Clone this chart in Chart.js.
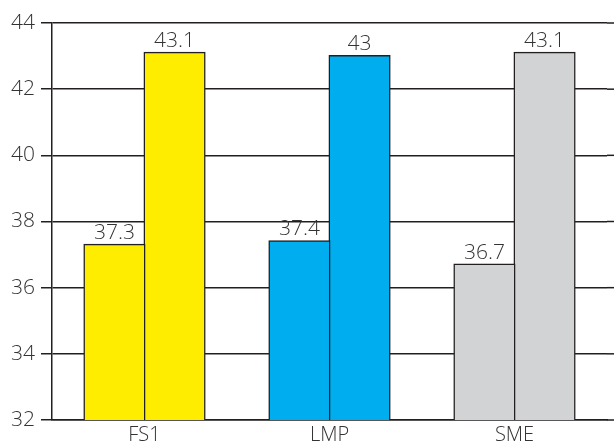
<!DOCTYPE html>
<html>
<head>
<meta charset="utf-8">
<script src="https://cdn.jsdelivr.net/npm/chart.js@4/dist/chart.umd.min.js"></script>
<style>
  html, body { margin: 0; padding: 0; background: #fff; }
  #wrap { width: 614px; height: 445px; }
</style>
</head>
<body>
<div id="wrap"><canvas id="chart"></canvas></div>
<script>
const categories = ['FS1', 'LMP', 'SME'];
const firstValues = [37.3, 37.4, 36.7];
const secondValues = [43.1, 43, 43.1];
const barColors = ['#FFED00', '#00AEEF', '#D1D3D4'];

const lineColor = '#231F20';
const textColor = '#333333';
const fontFamily = '"Open Sans", "Liberation Sans", sans-serif';

// value labels above each bar
const valueLabels = {
    id: 'valueLabels',
    afterDatasetsDraw(chart) {
        const ctx = chart.ctx;
        ctx.save();
        ctx.fillStyle = textColor;
        ctx.font = `300 21px ${fontFamily}`;
        ctx.textAlign = 'center';
        ctx.textBaseline = 'alphabetic';
        chart.data.datasets.forEach((ds, i) => {
            chart.getDatasetMeta(i).data.forEach((bar, j) => {
                ctx.fillText(String(ds.data[j]), bar.x, bar.y - 6);
            });
        });
        ctx.restore();
    }
};

// grid lines run on to the right edge of the canvas
const gridToEdge = {
    id: 'gridToEdge',
    afterDraw(chart) {
        const ctx = chart.ctx;
        const y = chart.scales.y;
        ctx.save();
        ctx.strokeStyle = lineColor;
        ctx.lineWidth = 1.5;
        y.ticks.forEach(t => {
            const py = y.getPixelForValue(t.value);
            ctx.beginPath();
            ctx.moveTo(chart.chartArea.right, py);
            ctx.lineTo(chart.width, py);
            ctx.stroke();
        });
        ctx.restore();
    }
};

new Chart(document.getElementById('chart'), {
    type: 'bar',
    data: {
        labels: categories,
        datasets: [
            {
                data: firstValues,
                backgroundColor: barColors,
                borderColor: lineColor,
                borderWidth: 1.5,
                borderSkipped: 'bottom',
                inflateAmount: 1,
            },
            {
                data: secondValues,
                backgroundColor: barColors,
                borderColor: lineColor,
                borderWidth: 1.5,
                borderSkipped: 'bottom',
                inflateAmount: 1,
            },
        ],
    },
    options: {
        responsive: true,
        maintainAspectRatio: false,
        animation: false,
        layout: { padding: { top: 23, right: 7, left: 0, bottom: 0 } },
        datasets: {
            bar: { categoryPercentage: 0.65, barPercentage: 1 }
        },
        plugins: {
            legend: { display: false },
            tooltip: { enabled: false },
        },
        scales: {
            x: {
                grid: { display: false, drawTicks: false },
                border: { display: true, color: lineColor, width: 1.5 },
                ticks: {
                    color: textColor,
                    font: { family: fontFamily, size: 20, weight: 300 },
                    padding: 3,
                },
                afterFit: scale => { scale.height = 25; },
            },
            y: {
                min: 32,
                max: 44,
                grid: {
                    color: lineColor,
                    lineWidth: 1.5,
                    tickLength: 11,
                    drawOnChartArea: true,
                },
                border: { display: true, color: lineColor, width: 1.5 },
                ticks: {
                    stepSize: 2,
                    color: textColor,
                    font: { family: fontFamily, size: 21, weight: 300 },
                    padding: 6,
                },
                afterFit: scale => { scale.width = 52; },
            },
        },
    },
    plugins: [valueLabels, gridToEdge],
});
</script>
</body>
</html>
